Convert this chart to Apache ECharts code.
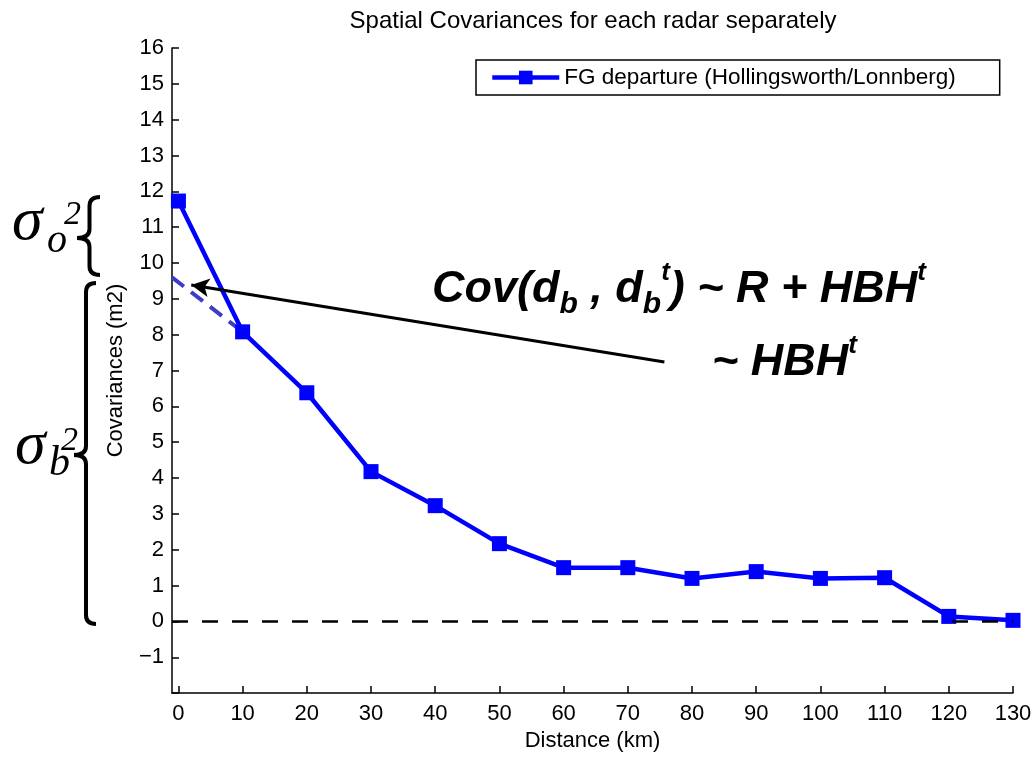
<!DOCTYPE html>
<html>
<head>
<meta charset="utf-8">
<script src="https://cdn.jsdelivr.net/npm/echarts@6/dist/echarts.min.js"></script>
<style>
  html, body { margin: 0; padding: 0; background: #fff; }
  #chart { width: 1035px; height: 757px; }
</style>
</head>
<body>
<div id="chart"></div>
<script>
// values
var distances = [0, 10, 20, 30, 40, 50, 60, 70, 80, 90, 100, 110, 120, 130];
var covariances = [11.73, 8.08, 6.38, 4.18, 3.23, 2.17, 1.50, 1.50, 1.20, 1.39, 1.20, 1.22, 0.14, 0.03];
var extrapX = [-1, 10];
var extrapY = [9.6, 8.08];
var xTickValues = [0, 10, 20, 30, 40, 50, 60, 70, 80, 90, 100, 110, 120, 130];
var arrowFrom = [75.7, 7.24];
var arrowTo = [2.0, 9.39];
var seriesName = 'FG departure (Hollingsworth/Lonnberg)';

var sans = "'Liberation Sans', Arial, Helvetica, sans-serif";
var serif = "'Liberation Serif', 'Times New Roman', serif";

function pairs(xs, ys) {
  return xs.map(function (x, i) { return [x, ys[i]]; });
}

// left curly brace built from curves and lines
function brace(xr, xt, yTop, yBot, yMid) {
  var xm = (xr + xt) / 2 + 1;
  var r = 9;
  var st = { stroke: '#000', lineWidth: 4, fill: null };
  function q(x1, y1, cx, cy, x2, y2) {
    return { type: 'bezierCurve', shape: { x1: x1, y1: y1, cpx1: cx, cpy1: cy, x2: x2, y2: y2 }, style: st };
  }
  function ln(x1, y1, x2, y2) {
    return { type: 'line', shape: { x1: x1, y1: y1, x2: x2, y2: y2 }, style: st };
  }
  return [
    q(xr, yTop, xm, yTop, xm, yTop + r),
    ln(xm, yTop + r, xm, yMid - r),
    q(xm, yMid - r, xm, yMid, xt, yMid),
    q(xt, yMid, xm, yMid, xm, yMid + r),
    ln(xm, yMid + r, xm, yBot - r),
    q(xm, yBot - r, xm, yBot, xr, yBot)
  ];
}

// serif italic glyph placed by its baseline
function glyph(str, x, baseline, size) {
  return {
    type: 'text',
    x: x,
    y: baseline - 0.32 * size,
    style: {
      text: str,
      font: 'italic ' + size + 'px ' + serif,
      fill: '#000',
      verticalAlign: 'middle'
    }
  };
}

var mainTok = { fontSize: 45, fontStyle: 'italic', fontWeight: 'bold', fontFamily: sans, color: '#000', lineHeight: 60, verticalAlign: 'middle' };
var subTok = { fontSize: 30, fontStyle: 'italic', fontWeight: 'bold', fontFamily: sans, color: '#000', lineHeight: 26, verticalAlign: 'bottom' };
var supTok = { fontSize: 26, fontStyle: 'italic', fontWeight: 'bold', fontFamily: sans, color: '#000', lineHeight: 49, verticalAlign: 'top' };
var formulaRich = { m: mainTok, sub: subTok, sup: supTok };

var graphics = [
  {
    type: 'text',
    x: 593,
    y: 9,
    style: {
      text: 'Spatial Covariances for each radar separately',
      font: '24px ' + sans,
      fill: '#000',
      align: 'center'
    }
  },
  {
    type: 'text',
    x: 432,
    y: 260,
    style: {
      text: '{m|Cov(d}{sub|b}{m| , d}{sub|b}{sup|t}{m|) ~ R + HBH}{sup|t}',
      rich: formulaRich,
      verticalAlign: 'top'
    }
  },
  {
    type: 'text',
    x: 712,
    y: 333,
    style: {
      text: '{m|~ HBH}{sup|t}',
      rich: formulaRich,
      verticalAlign: 'top'
    }
  },
  glyph('\u03c3', 12, 243, 62),
  glyph('o', 47, 254, 40),
  glyph('2', 64, 226, 34),
  glyph('\u03c3', 15, 467, 62),
  glyph('b', 49, 477, 42),
  glyph('2', 61, 452, 34)
].concat(brace(100, 77, 197, 275, 238), brace(96, 74, 283, 624, 455));

var chart = echarts.init(document.getElementById('chart'));
var option = {
  animation: false,
  backgroundColor: '#fff',
  grid: { left: 172, right: 22, top: 48, bottom: 63 },
  legend: {
    data: [seriesName],
    left: 476,
    top: 60,
    orient: 'horizontal',
    padding: [6, 44, 6, 14],
    itemWidth: 67,
    itemHeight: 17,
    itemGap: 8,
    borderColor: '#000',
    borderWidth: 1.5,
    lineStyle: { width: 4.5, color: '#0000ff' },
    textStyle: { fontSize: 22.5, fontFamily: sans, color: '#000' }
  },
  xAxis: {
    type: 'value',
    min: -1,
    max: 130,
    name: 'Distance (km)',
    nameLocation: 'middle',
    nameGap: 36,
    nameTextStyle: { fontSize: 22, fontFamily: sans, color: '#000' },
    splitLine: { show: false },
    axisLine: { onZero: false, lineStyle: { color: '#000', width: 1.5 } },
    axisTick: { inside: true, length: 7, customValues: xTickValues, lineStyle: { color: '#000', width: 1.5 } },
    axisLabel: { customValues: xTickValues, fontSize: 22, fontFamily: sans, color: '#000', margin: 10 }
  },
  yAxis: {
    type: 'value',
    min: -2,
    max: 16,
    interval: 1,
    name: 'Covariances (m2)',
    nameLocation: 'middle',
    nameGap: 45,
    nameTextStyle: { fontSize: 22, fontFamily: sans, color: '#000' },
    splitLine: { show: false },
    axisLine: { show: true, onZero: false, lineStyle: { color: '#000', width: 1.5 } },
    axisTick: { show: true, inside: true, length: 7, lineStyle: { color: '#000', width: 1.5 } },
    axisLabel: {
      fontSize: 22, fontFamily: sans, color: '#000', margin: 8,
      formatter: function (v) {
        if (v === -2) return '';
        return v < 0 ? '\u2212' + Math.abs(v) : String(v);
      }
    }
  },
  series: [
    {
      name: 'zero',
      type: 'line',
      data: [],
      silent: true,
      markLine: {
        silent: true,
        symbol: ['none', 'none'],
        label: { show: false },
        lineStyle: { color: '#000', width: 2.5, type: [16, 14] },
        data: [{ yAxis: 0 }]
      }
    },
    {
      name: 'extrapolation',
      type: 'line',
      data: pairs(extrapX, extrapY),
      showSymbol: false,
      silent: true,
      lineStyle: { color: '#3c3cc8', width: 4, type: [15, 9] },
      z: 1,
      markLine: {
        silent: true,
        symbol: ['none', 'arrow'],
        symbolSize: [14, 18],
        label: { show: false },
        lineStyle: { color: '#000', width: 3, type: 'solid' },
        data: [[{ coord: arrowFrom }, { coord: arrowTo }]]
      }
    },
    {
      name: seriesName,
      type: 'line',
      data: pairs(distances, covariances),
      symbol: 'rect',
      symbolSize: 15,
      lineStyle: { color: '#0000ff', width: 4.5 },
      itemStyle: { color: '#0000ff' },
      z: 3
    }
  ],
  graphic: graphics
};
chart.setOption(option);
window.addEventListener('resize', function () {
  chart.resize();
});
</script>
</body>
</html>
